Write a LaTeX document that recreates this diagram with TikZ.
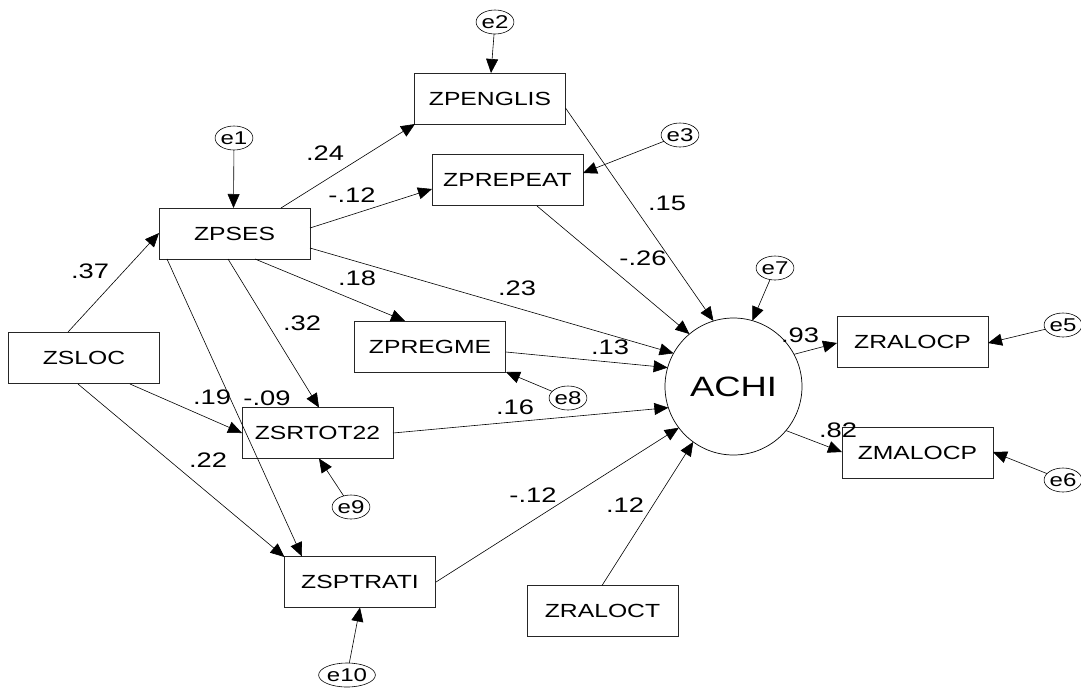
\documentclass[tikz,border=0pt]{standalone}
\usepackage{fontspec}
\setmainfont{Liberation Sans}[FakeStretch=1.3]
\usetikzlibrary{arrows.meta,calc,shapes.geometric}
\begin{document}
\begin{tikzpicture}[x=1pt,y=-1pt,
  box/.style={draw=black!85, line width=0.8pt, minimum width=151pt, minimum height=51pt, inner sep=0pt, outer sep=0pt, font=\fontsize{19}{20}\selectfont},
  err/.style={draw, ellipse, minimum width=32pt, minimum height=24pt, inner sep=0pt, outer sep=0pt, line width=0.6pt, font=\fontsize{18.5}{19}\selectfont},
  lat/.style={draw, circle, minimum size=137pt, inner sep=0pt, outer sep=0pt, line width=0.7pt, font=\fontsize{28}{30}\selectfont},
  arr/.style={-{Triangle[length=14pt,width=12pt]}, line width=0.6pt},
  lab/.style={inner sep=0pt, font=\fontsize{21}{22}\selectfont}]
\useasboundingbox (0,0) rectangle (1081,689);
% observed variables
\node[box] (zpses) at (234.5,233.5) {ZPSES};
\node[box] (zpenglis) at (490,98.5) {ZPENGLIS};
\node[box] (zprepeat) at (507.5,180) {ZPREPEAT};
\node[box] (zpregme) at (430,346.5) {ZPREGME};
\node[box] (zsloc) at (84,358) {ZSLOC};
\node[box] (zsrtot) at (317.5,433) {ZSRTOT22};
\node[box] (zsptrati) at (360,582) {ZSPTRATI};
\node[box] (zraloct) at (602.5,611) {ZRALOCT};
\node[box] (zralocp) at (912.5,342) {ZRALOCP};
\node[box] (zmalocp) at (917.5,452.5) {ZMALOCP};
% latent
\node[lat] (achi) at (733.5,386.5) {ACHI};
% errors
\node[err] (e1) at (234,138) {e1};
\node[err] (e2) at (495,22) {e2};
\node[err] (e3) at (680,135) {e3};
\node[err] (e5) at (1063,325) {e5};
\node[err] (e6) at (1063,480) {e6};
\node[err] (e7) at (775,268) {e7};
\node[err] (e8) at (568,398) {e8};
\node[err] (e9) at (351,507) {e9};
\node[err] (e10) at (347,675) {e10};
% paths
\draw[arr] ($(zsloc)+(-16,-26)$) -- ($(zpses)+(-75.5,-0.5)$);
\draw[arr] ($(zpses)+(46.5,-25.5)$) -- ($(zpenglis)+(-75,25.5)$);
\draw[arr] ($(zpses)+(75.5,-5.5)$) -- ($(zprepeat)+(-75.5,9)$);
\draw[arr] ($(zpses)+(75.5,14.5)$) -- (achi.151.4);
\draw[arr] ($(zpses)+(20.5,25.5)$) -- ($(zpregme)+(-25,-25.5)$);
\draw[arr] ($(zpses)+(-6.5,25.5)$) -- ($(zsrtot)+(1.5,-25.5)$);
\draw[arr] ($(zpses)+(-67.5,25.5)$) -- ($(zsptrati)+(-58,-25.5)$);
\draw[arr] ($(zsloc)+(46,26)$) -- ($(zsrtot)+(-75.5,0)$);
\draw[arr] ($(zsloc)+(-6,26)$) -- ($(zsptrati)+(-75.5,-25)$);
\draw[arr] ($(zpenglis)+(75.5,9.5)$) -- (achi.107.1);
\draw[arr] ($(zprepeat)+(29.5,26)$) -- (achi.130.4);
\draw[arr] ($(zpregme)+(76,5.5)$) -- (achi.164.9);
\draw[arr] ($(zsrtot)+(75.5,0)$) -- (achi.198.9);
\draw[arr] ($(zsptrati)+(76,0)$) -- (achi.217.5);
\draw[arr] ($(zraloct)+(-0.5,-25.5)$) -- (achi.234.4);
\draw[arr] (achi.28.6) -- ($(zralocp)+(-75.5,1)$);
\draw[arr] (achi.-40.5) -- ($(zmalocp)+(-75.5,-0.5)$);
% error arrows
\draw[arr] (e1) -- ($(zpses)+(-1,-25.5)$);
\draw[arr] (e2) -- ($(zpenglis)+(1,-25.5)$);
\draw[arr] (e3) -- ($(zprepeat)+(75.5,-7)$);
\draw[arr] (e5) -- ($(zralocp)+(75.5,1)$);
\draw[arr] (e6) -- ($(zmalocp)+(75.5,-0.5)$);
\draw[arr] (e7) -- (achi.74.5);
\draw[arr] (e8) -- ($(zpregme)+(76,25.5)$);
\draw[arr] (e9) -- ($(zsrtot)+(1.5,25.5)$);
\draw[arr] (e10) -- ($(zsptrati)+(0,25.5)$);
% coefficient labels
\node[lab] (l37) at (90,271) {.37};
\node[lab] (l24) at (325,153) {.24};
\node[lab] (l12a) at (352,195) {-.12};
\node[lab] (l18) at (357,278) {.18};
\node[lab] (l23) at (517,288) {.23};
\node[lab] (l32) at (302,323) {.32};
\node[lab] (l19) at (212,397) {.19};
\node[lab] (l09) at (267,398) {-.09};
\node[lab] (l22) at (208,460) {.22};
\node[lab] (l15) at (667,203) {.15};
\node[lab] (l26) at (643,258) {-.26};
\node[lab] (l13) at (610,347) {.13};
\node[lab] (l16) at (515,407) {.16};
\node[lab] (l12b) at (533,495) {-.12};
\node[lab] (l12c) at (625,505) {.12};
\node[lab] (l93) at (800,335) {.93};
\node[lab] (l82) at (838,430) {.82};
\end{tikzpicture}
\end{document}
